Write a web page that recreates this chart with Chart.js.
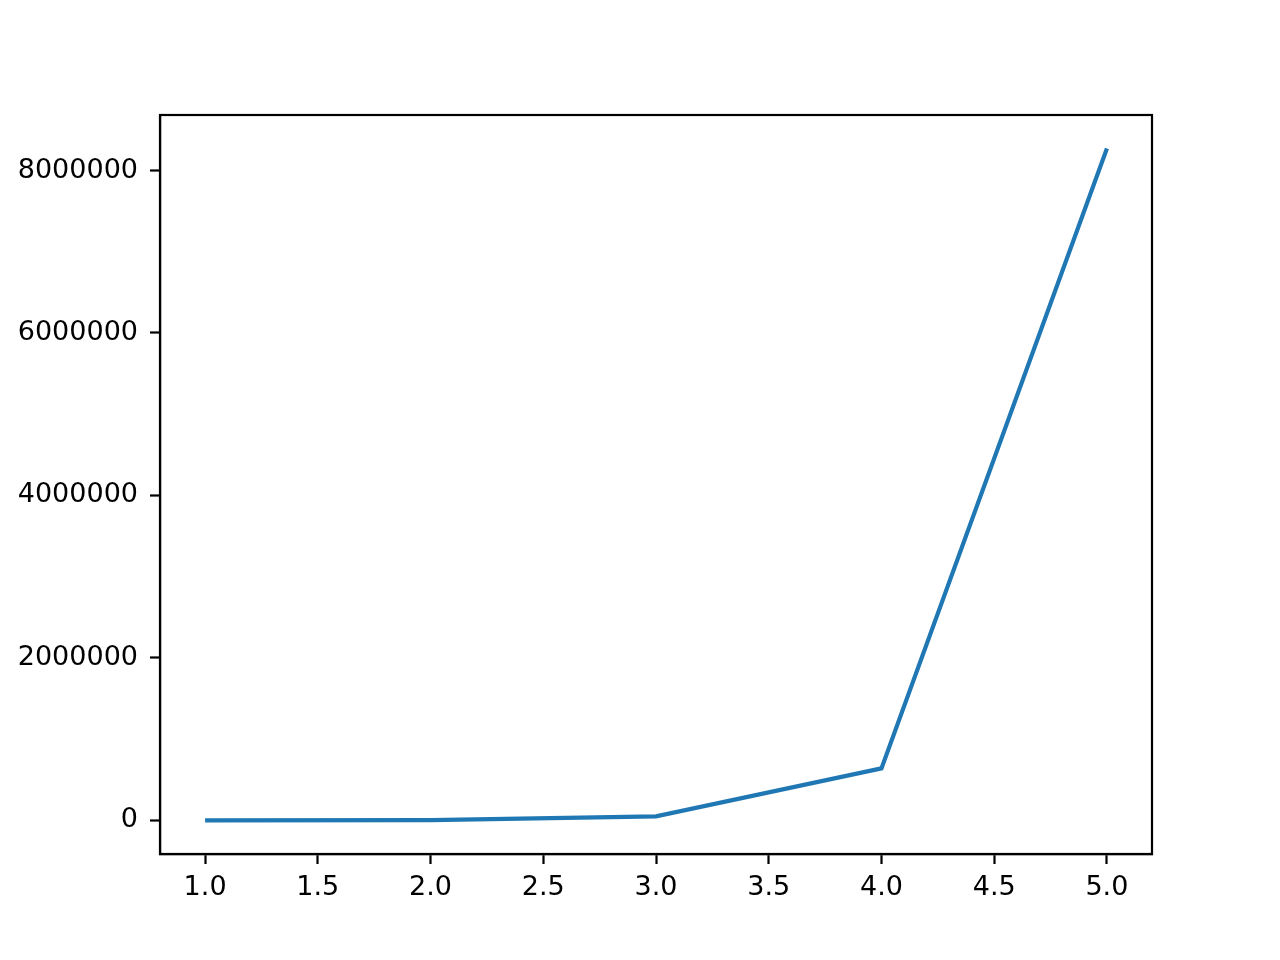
<!DOCTYPE html>
<html>
<head>
<meta charset="utf-8">
<script src="https://cdn.jsdelivr.net/npm/chart.js@4"></script>
<style>
html,body{margin:0;padding:0;background:#fff;}
#wrap{width:1280px;height:960px;}
</style>
</head>
<body>
<div id="wrap"><canvas id="c" width="1280" height="960"></canvas></div>
<script>
const xValues = [1, 2, 3, 4, 5];
const yValues = [300, 3800, 49000, 640000, 8270000];
const xTicks = [1.0, 1.5, 2.0, 2.5, 3.0, 3.5, 4.0, 4.5, 5.0];
const yTicks = [0, 2000000, 4000000, 6000000, 8000000];

const FONT = {family: "'DejaVu Sans'", size: 27};

const framePlugin = {
  id: 'frame',
  afterDraw(chart) {
    const a = chart.chartArea, ctx = chart.ctx;
    ctx.save();
    ctx.strokeStyle = '#000';
    ctx.lineWidth = 2.2;
    ctx.strokeRect(a.left, a.top, a.right - a.left, a.bottom - a.top);
    ctx.restore();
  }
};

new Chart(document.getElementById('c'), {
  type: 'line',
  data: {
    datasets: [{
      data: xValues.map((x, i) => ({x: x, y: yValues[i]})),
      borderColor: '#1f77b4',
      borderWidth: 4.2,
      pointRadius: 0,
      fill: false,
      tension: 0
    }]
  },
  options: {
    responsive: false,
    animation: false,
    devicePixelRatio: 1,
    layout: {padding: {left: 0, right: 128, top: 115, bottom: 0}},
    plugins: {legend: {display: false}, tooltip: {enabled: false}},
    scales: {
      x: {
        type: 'linear',
        min: 0.8,
        max: 5.2,
        afterBuildTicks(s) { s.ticks = xTicks.map(v => ({value: v})); },
        afterFit(s) { s.height = 106; },
        grid: {drawOnChartArea: false, drawTicks: true, tickLength: 10, tickWidth: 2.2, color: '#000'},
        border: {display: true, color: '#000', width: 2.2},
        ticks: {color: '#000', font: FONT, padding: 8, maxRotation: 0, autoSkip: false,
          callback: v => Number(v).toFixed(1)}
      },
      y: {
        type: 'linear',
        min: -413500,
        max: 8683500,
        afterBuildTicks(s) { s.ticks = yTicks.map(v => ({value: v})); },
        afterFit(s) { s.width = 160; },
        grid: {drawOnChartArea: false, drawTicks: true, tickLength: 10, tickWidth: 2.2, color: '#000'},
        border: {display: true, color: '#000', width: 2.2},
        ticks: {color: '#000', font: FONT, padding: 12, autoSkip: false,
          callback: v => String(v)}
      }
    }
  },
  plugins: [framePlugin]
});
</script>
</body>
</html>
